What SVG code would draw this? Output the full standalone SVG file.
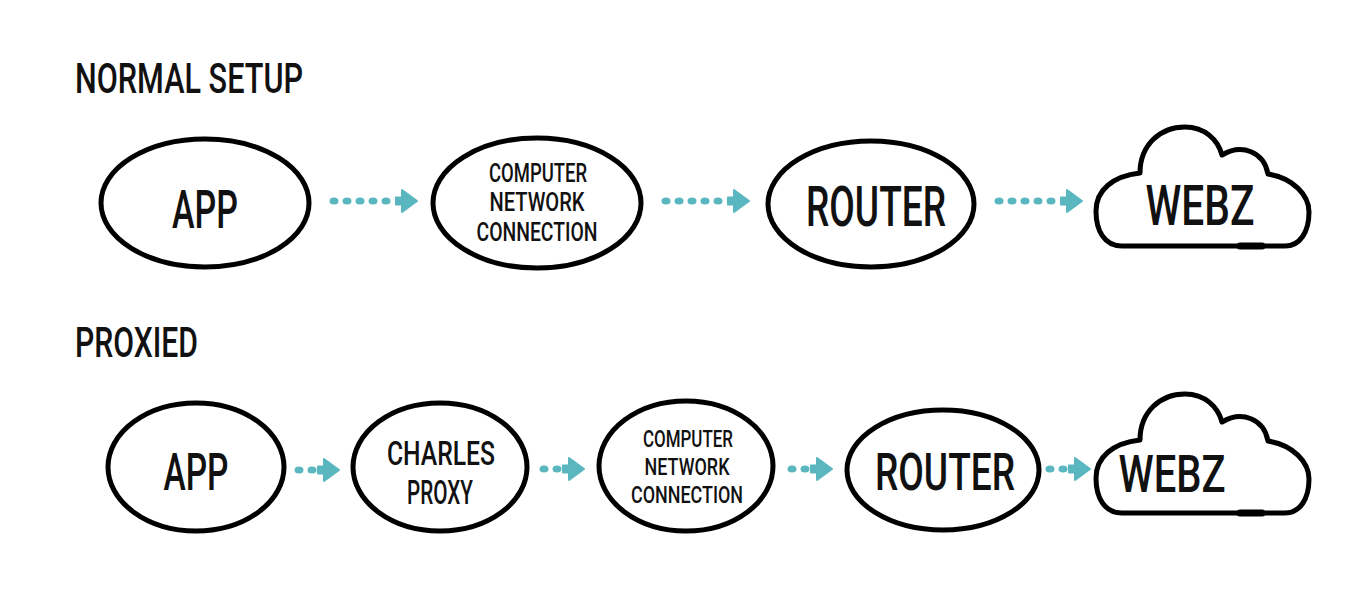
<svg xmlns="http://www.w3.org/2000/svg" xmlns:xlink="http://www.w3.org/1999/xlink" width="1350" height="600" viewBox="0 0 1350 600">
<style>
.node{fill:#fff;stroke:#000;stroke-width:5}
.cloud{fill:#fff;stroke:#000;stroke-width:5;stroke-linejoin:round}
.t{font-family:Roboto,"Liberation Sans",Arial,sans-serif;font-weight:500;fill:#111;text-anchor:middle}
.title{font-family:Roboto,"Liberation Sans",Arial,sans-serif;font-weight:500;fill:#111}
.dot{fill:#5ab7c0}
.head{fill:#5ab7c0;stroke:#5ab7c0;stroke-width:2;stroke-linejoin:round}
</style>
<defs>
<path id="ah" d="M -21 -3.5 L -15 -3.5 L -15 -11 L 0 0 L -15 11 L -15 3.5 L -21 3.5 Z"/>
<ellipse id="d" rx="4.5" ry="3.5"/>
<path id="cl" d="M 1122 246 C 1104 246 1096 230 1096 211 C 1096 190 1113 176 1140 173 C 1140 145 1160 127 1185 127 C 1205 127 1218 140 1222 155 C 1242 143 1264 152 1268 174 C 1293 178 1309 195 1309 212 C 1309 232 1300 246 1285 246 Z"/>
</defs>
<rect width="1350" height="600" fill="#fff"/>
<text class="title" x="75" y="93" font-size="43" textLength="228" lengthAdjust="spacingAndGlyphs">NORMAL SETUP</text>
<text class="title" x="75" y="357" font-size="42" textLength="123" lengthAdjust="spacingAndGlyphs">PROXIED</text>

<g id="connectors">
<g transform="translate(0,201)">
<use href="#d" class="dot" x="334"/><use href="#d" class="dot" x="347"/><use href="#d" class="dot" x="360"/><use href="#d" class="dot" x="373"/><use href="#d" class="dot" x="386"/>
<use href="#ah" class="head" transform="translate(417,0)"/>
</g>
<g transform="translate(332,201)">
<use href="#d" class="dot" x="334"/><use href="#d" class="dot" x="347"/><use href="#d" class="dot" x="360"/><use href="#d" class="dot" x="373"/><use href="#d" class="dot" x="386"/>
<use href="#ah" class="head" transform="translate(417,0)"/>
</g>
<g transform="translate(665,201)">
<use href="#d" class="dot" x="334"/><use href="#d" class="dot" x="347"/><use href="#d" class="dot" x="360"/><use href="#d" class="dot" x="373"/><use href="#d" class="dot" x="386"/>
<use href="#ah" class="head" transform="translate(417,0)"/>
</g>
<g transform="translate(0,470)">
<use href="#d" class="dot" x="299"/><use href="#d" class="dot" x="312"/>
<use href="#ah" class="head" transform="translate(339,0)"/>
</g>
<g transform="translate(245,469)">
<use href="#d" class="dot" x="299"/><use href="#d" class="dot" x="312"/>
<use href="#ah" class="head" transform="translate(339,0)"/>
</g>
<g transform="translate(493,469)">
<use href="#d" class="dot" x="299"/><use href="#d" class="dot" x="312"/>
<use href="#ah" class="head" transform="translate(339,0)"/>
</g>
<g transform="translate(751,469)">
<use href="#d" class="dot" x="299"/><use href="#d" class="dot" x="312"/>
<use href="#ah" class="head" transform="translate(339,0)"/>
</g>
</g>

<g id="r1-app">
<ellipse class="node" cx="205" cy="203" rx="104" ry="64"/>
<text class="t" x="205" y="228" font-size="53" textLength="66" lengthAdjust="spacingAndGlyphs">APP</text>
</g>
<g id="r1-cnc">
<ellipse class="node" cx="537" cy="203" rx="104" ry="65"/>
<text class="t" x="538" y="182" font-size="26" textLength="98" lengthAdjust="spacingAndGlyphs">COMPUTER</text>
<text class="t" x="537" y="211" font-size="26" textLength="95" lengthAdjust="spacingAndGlyphs">NETWORK</text>
<text class="t" x="537" y="241" font-size="26" textLength="121" lengthAdjust="spacingAndGlyphs">CONNECTION</text>
</g>
<g id="r1-router">
<ellipse class="node" cx="871" cy="204" rx="103" ry="63"/>
<text class="t" x="876" y="226" font-size="55" textLength="140" lengthAdjust="spacingAndGlyphs">ROUTER</text>
</g>
<g id="r1-webz">
<use href="#cl" class="cloud"/>
<line x1="1240" y1="246" x2="1262" y2="246" stroke="#000" stroke-width="7" stroke-linecap="round"/>
<text class="t" x="1200" y="225" font-size="55" textLength="109" lengthAdjust="spacingAndGlyphs">WEBZ</text>
</g>

<g id="r2-app">
<ellipse class="node" cx="196" cy="467" rx="88" ry="64"/>
<text class="t" x="196" y="490" font-size="52" textLength="65" lengthAdjust="spacingAndGlyphs">APP</text>
</g>
<g id="r2-proxy">
<ellipse class="node" cx="440" cy="467" rx="87" ry="64"/>
<text class="t" x="441" y="465" font-size="34" textLength="108" lengthAdjust="spacingAndGlyphs">CHARLES</text>
<text class="t" x="440" y="504" font-size="34" textLength="66" lengthAdjust="spacingAndGlyphs">PROXY</text>
</g>
<g id="r2-cnc">
<ellipse class="node" cx="686" cy="466" rx="87" ry="65"/>
<text class="t" x="688" y="447" font-size="24" textLength="90" lengthAdjust="spacingAndGlyphs">COMPUTER</text>
<text class="t" x="687" y="475" font-size="24" textLength="85" lengthAdjust="spacingAndGlyphs">NETWORK</text>
<text class="t" x="687" y="503" font-size="24" textLength="112" lengthAdjust="spacingAndGlyphs">CONNECTION</text>
</g>
<g id="r2-router">
<ellipse class="node" cx="943" cy="470" rx="96" ry="60"/>
<text class="t" x="945" y="490" font-size="52" textLength="140" lengthAdjust="spacingAndGlyphs">ROUTER</text>
</g>
<g id="r2-webz">
<use href="#cl" class="cloud" transform="translate(0,267)"/>
<line x1="1240" y1="513" x2="1262" y2="513" stroke="#000" stroke-width="7" stroke-linecap="round"/>
<text class="t" x="1172" y="492" font-size="52" textLength="107" lengthAdjust="spacingAndGlyphs">WEBZ</text>
</g>
</svg>
